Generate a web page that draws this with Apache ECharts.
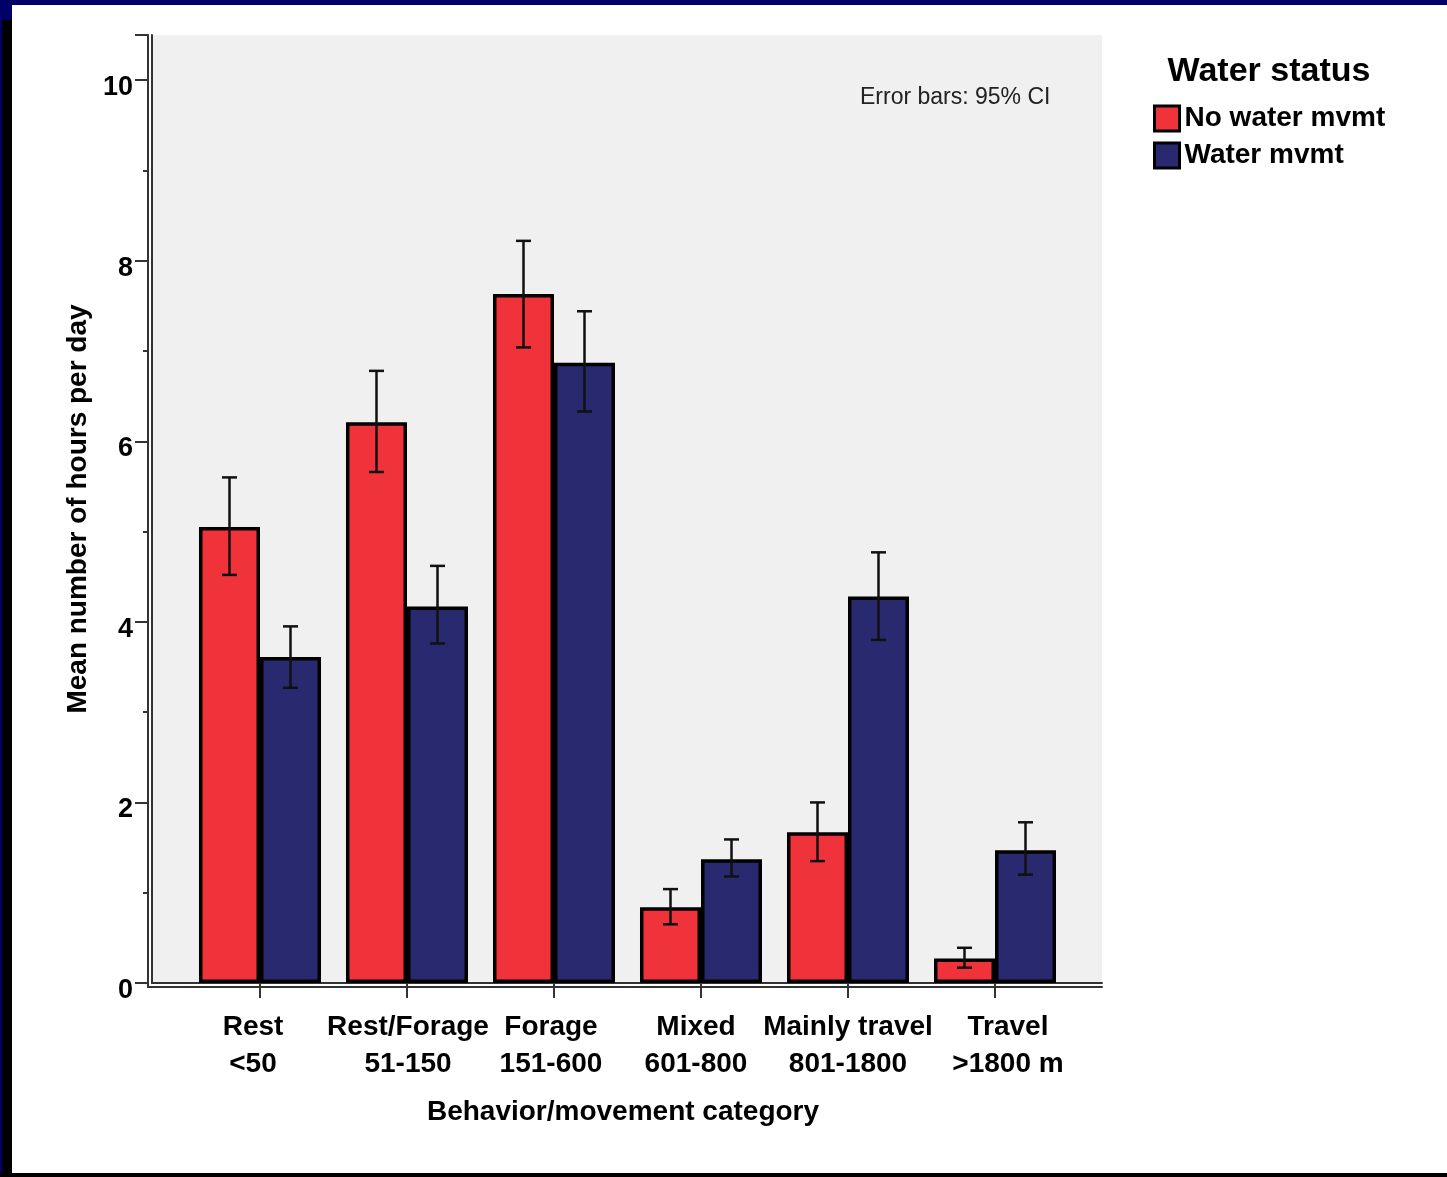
<!DOCTYPE html>
<html>
<head>
<meta charset="utf-8">
<script src="https://cdn.jsdelivr.net/npm/echarts@6/dist/echarts.min.js"></script>
<style>
html,body{margin:0;padding:0;background:#fff;}
#wrap{position:relative;width:1447px;height:1177px;overflow:hidden;background:#fff;}
#chart{position:absolute;left:0;top:0;width:1447px;height:1177px;}
.fr{position:absolute;z-index:5;}
</style>
</head>
<body>
<div id="wrap">
<div id="chart"></div>
<div class="fr" style="left:0;top:0;width:1447px;height:5px;background:#000068;"></div>
<div class="fr" style="left:0;top:0;width:12px;height:1177px;background:#000;"></div>
<div class="fr" style="left:0;top:0;width:12px;height:20px;background:#000068;"></div>
<div class="fr" style="left:0;top:0;width:2px;height:1177px;background:#000068;"></div>
<div class="fr" style="left:0;top:1173px;width:1447px;height:4px;background:#000;"></div>
</div>
<script>
const categories = ['Rest\n<50', 'Rest/Forage\n51-150', 'Forage\n151-600', 'Mixed\n601-800', 'Mainly travel\n801-1800', 'Travel\n>1800 m'];
const seriesNames = ['No water mvmt', 'Water mvmt'];
const noWaterMean = [5.05, 6.21, 7.63, 0.84, 1.67, 0.27];
const noWaterLow  = [4.52, 5.66, 7.04, 0.65, 1.35, 0.17];
const noWaterHigh = [5.60, 6.78, 8.22, 1.04, 2.00, 0.39];
const waterMean = [3.61, 4.17, 6.87, 1.37, 4.28, 1.47];
const waterLow  = [3.27, 3.76, 6.33, 1.18, 3.80, 1.20];
const waterHigh = [3.95, 4.62, 7.44, 1.59, 4.77, 1.78];
const yMin = 0, yMax = 10.5, yInterval = 2;

// label horizontal nudges (px, + = right), styling only
const labelNudge = [-7, 1, -3, -5, 0, 13];

const FONT = '"Liberation Sans", Arial, sans-serif';
const RED = '#f0323a', BLUE = '#29296f';
const CAT_GAP = 0.17;

function errData(low, high) {
  return categories.map((c, i) => [i, low[i], high[i]]);
}
function makeErr(side) {
  return function (params, api) {
    const idx = api.value(0);
    const band = api.size([1, 0])[0];
    const off = band * (1 - CAT_GAP) / 4 * side;
    const pLow = api.coord([idx, api.value(1)]);
    const pHigh = api.coord([idx, api.value(2)]);
    const x = pLow[0] + off;
    const cap = 7.5;
    const st = { stroke: '#111', lineWidth: 2.5 };
    return {
      type: 'group',
      children: [
        { type: 'line', shape: { x1: x, y1: pLow[1], x2: x, y2: pHigh[1] }, style: st },
        { type: 'line', shape: { x1: x - cap, y1: pLow[1], x2: x + cap, y2: pLow[1] }, style: st },
        { type: 'line', shape: { x1: x - cap, y1: pHigh[1], x2: x + cap, y2: pHigh[1] }, style: st }
      ]
    };
  };
}

const catData = categories.map((c, i) => {
  const n = labelNudge[i];
  return { value: c, textStyle: { padding: n >= 0 ? [0, 0, 0, 2 * n] : [0, -2 * n, 0, 0] } };
});

const chart = echarts.init(document.getElementById('chart'), null, { renderer: 'canvas' });
const lineOnly = { show: true, lineStyle: { color: '#333', width: 2 } };
const noTick = { show: false };
const noLabel = { show: false };
const noSplit = { show: false };
chart.setOption({
  animation: false,
  backgroundColor: '#fff',
  grid: [
    { left: 152, right: 345, top: 35, bottom: 194, show: true, backgroundColor: '#f0f0f0', borderWidth: 0 },
    { left: 186.5, right: 378.5, top: 35, bottom: 194, show: false },
    { left: 148, right: 345, top: 35, bottom: 190, show: false }
  ],
  xAxis: [
    { gridIndex: 0, type: 'value', min: 0, max: 1, position: 'bottom', axisLine: lineOnly, axisTick: noTick, axisLabel: noLabel, splitLine: noSplit },
    {
      gridIndex: 1, type: 'category', data: catData, position: 'bottom', offset: 4,
      axisLine: { show: false },
      axisTick: { show: true, interval: 0, alignWithLabel: true, length: 15, lineStyle: { color: '#333', width: 2 } },
      axisLabel: { interval: 0, margin: 22, fontFamily: FONT, fontSize: 28, fontWeight: 'bold', color: '#000', lineHeight: 37 },
      name: 'Behavior/movement category', nameLocation: 'middle', nameGap: 111,
      nameTextStyle: { fontFamily: FONT, fontSize: 28, fontWeight: 'bold', color: '#000', padding: [0, 9, 0, 0] }
    },
    { gridIndex: 2, type: 'value', min: 0, max: 1, position: 'bottom', axisLine: lineOnly, axisTick: noTick, axisLabel: noLabel, splitLine: noSplit }
  ],
  yAxis: [
    { gridIndex: 0, type: 'value', min: 0, max: 1, position: 'left', axisLine: lineOnly, axisTick: noTick, axisLabel: noLabel, splitLine: noSplit },
    {
      gridIndex: 1, type: 'value', min: yMin, max: yMax, interval: yInterval, position: 'left', offset: 38.5,
      axisLine: { show: false },
      axisTick: { show: true, length: 13, lineStyle: { color: '#333', width: 2 } },
      minorTick: { show: true, splitNumber: 2, length: 5, lineStyle: { color: '#333', width: 2 } },
      axisLabel: { margin: 15, verticalAlign: 'top', lineHeight: 15, fontFamily: FONT, fontSize: 27, fontWeight: 'bold', color: '#000',
        formatter: v => (v % yInterval === 0 ? String(v) : '') },
      splitLine: noSplit,
      name: 'Mean number of hours per day', nameLocation: 'middle', nameGap: 49,
      nameTextStyle: { fontFamily: FONT, fontSize: 28, fontWeight: 'bold', color: '#000' }
    },
    { gridIndex: 2, type: 'value', min: 0, max: 1, position: 'left', axisLine: lineOnly, axisTick: noTick, axisLabel: noLabel, splitLine: noSplit }
  ],
  legend: {
    data: seriesNames, orient: 'vertical', left: 1153, top: 103, padding: 0,
    icon: 'rect', itemWidth: 25, itemHeight: 25, itemGap: 6,
    itemStyle: { borderColor: '#000', borderWidth: 3 },
    textStyle: { fontFamily: FONT, fontSize: 28, fontWeight: 'bold', color: '#000', lineHeight: 25, padding: [6, 0, 0, 0] }
  },
  graphic: [
    { type: 'text', x: 1269, y: 72, style: { text: 'Water status', textAlign: 'center', textVerticalAlign: 'middle', font: 'bold 34px ' + FONT, fill: '#000' } },
    { type: 'text', x: 860, y: 98, style: { text: 'Error bars: 95% CI', textAlign: 'left', textVerticalAlign: 'middle', font: '23px ' + FONT, fill: '#222' } }
  ],
  series: [
    { name: seriesNames[0], type: 'bar', xAxisIndex: 1, yAxisIndex: 1, data: noWaterMean, barGap: '0%', barCategoryGap: (CAT_GAP * 100) + '%',
      itemStyle: { color: RED, borderColor: '#000', borderWidth: 3.5 } },
    { name: seriesNames[1], type: 'bar', xAxisIndex: 1, yAxisIndex: 1, data: waterMean, barGap: '0%', barCategoryGap: (CAT_GAP * 100) + '%',
      itemStyle: { color: BLUE, borderColor: '#000', borderWidth: 3.5 } },
    { type: 'custom', xAxisIndex: 1, yAxisIndex: 1, renderItem: makeErr(-1), data: errData(noWaterLow, noWaterHigh), z: 5, silent: true },
    { type: 'custom', xAxisIndex: 1, yAxisIndex: 1, renderItem: makeErr(1), data: errData(waterLow, waterHigh), z: 5, silent: true }
  ]
});
</script>
</body>
</html>
